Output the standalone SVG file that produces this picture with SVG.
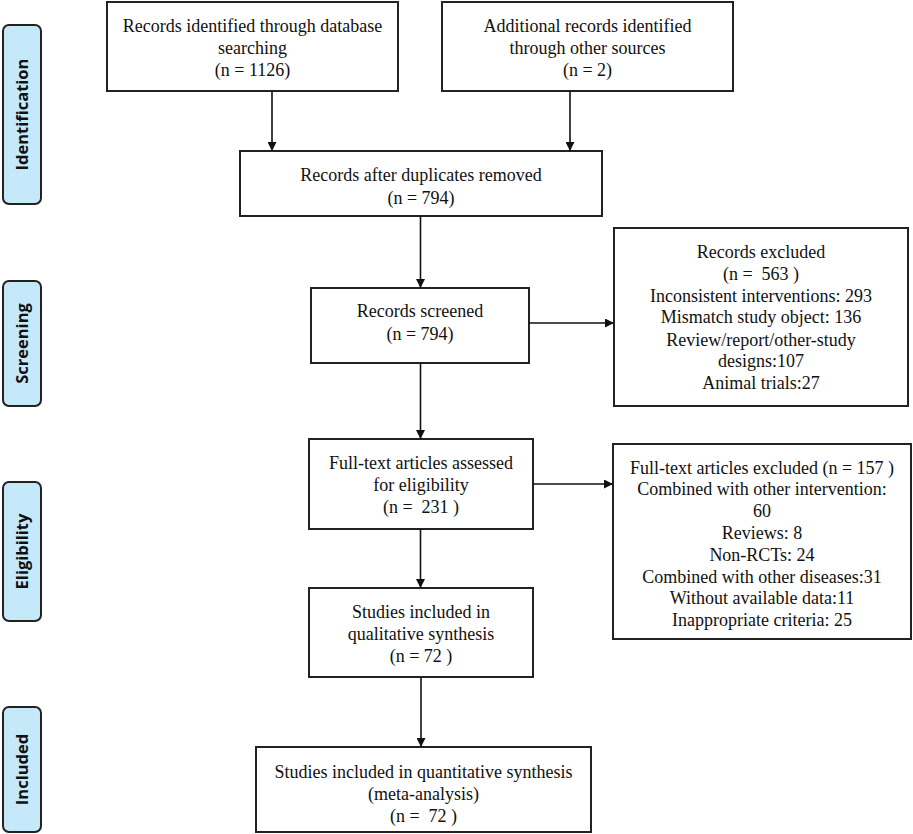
<svg xmlns="http://www.w3.org/2000/svg" width="913" height="834" viewBox="0 0 913 834">
<style>
.box{fill:#fff;stroke:#222;stroke-width:2}
.side{fill:#c6e9fa;stroke:#222;stroke-width:2}
.t{font-family:"Liberation Serif",serif;font-size:18px;fill:#111;text-anchor:middle;white-space:pre}
.s{font-family:"Open Sans","DejaVu Sans",sans-serif;font-size:16.5px;font-weight:bold;fill:#111;text-anchor:middle}
.c{stroke:#111;stroke-width:1.6;fill:none;marker-end:url(#ah)}
</style>
<defs>
<marker id="ah" viewBox="0 0 10 10" refX="10" refY="5" markerWidth="9" markerHeight="9" markerUnits="userSpaceOnUse" orient="auto">
<path d="M0,0 L10,5 L0,10 z" fill="#111"/>
</marker>
</defs>
<g id="side-identification"><rect class="side" x="3" y="25" width="38" height="179" rx="6"/><text class="s" transform="translate(28,114.5) rotate(-90)">Identification</text></g>
<g id="side-screening"><rect class="side" x="3" y="281" width="38" height="125" rx="6"/><text class="s" transform="translate(28,343.5) rotate(-90)">Screening</text></g>
<g id="side-eligibility"><rect class="side" x="3" y="482" width="38" height="139" rx="6"/><text class="s" transform="translate(28,551.5) rotate(-90)">Eligibility</text></g>
<g id="side-included"><rect class="side" x="3" y="707" width="38" height="125" rx="6"/><text class="s" transform="translate(28,769.5) rotate(-90)">Included</text></g>

<g id="n-database"><rect class="box" x="107" y="2" width="291" height="89"/>
<text class="t" x="252.5" y="32">Records identified through database</text>
<text class="t" x="252.5" y="54">searching</text>
<text class="t" x="252.5" y="76">(n = 1126)</text></g>
<g id="n-other"><rect class="box" x="442" y="2" width="291" height="89"/>
<text class="t" x="587.5" y="32">Additional records identified</text>
<text class="t" x="587.5" y="54">through other sources</text>
<text class="t" x="587.5" y="76">(n = 2)</text></g>
<g id="n-duplicates"><rect class="box" x="240" y="151" width="362" height="65"/>
<text class="t" x="421" y="181">Records after duplicates removed</text>
<text class="t" x="421" y="204">(n = 794)</text></g>
<g id="n-screened"><rect class="box" x="311" y="288" width="218" height="75"/>
<text class="t" x="420" y="317">Records screened</text>
<text class="t" x="420" y="340">(n = 794)</text></g>
<g id="n-excluded"><rect class="box" x="614" y="228" width="294" height="178"/>
<text class="t" x="761" y="258">Records excluded</text>
<text class="t" x="761" y="280">(n =  563 )</text>
<text class="t" x="761" y="302">Inconsistent interventions: 293</text>
<text class="t" x="761" y="323">Mismatch study object: 136</text>
<text class="t" x="761" y="346">Review/report/other-study</text>
<text class="t" x="761" y="367">designs:107</text>
<text class="t" x="761" y="389">Animal trials:27</text></g>
<g id="n-fulltext"><rect class="box" x="309" y="439" width="224" height="90"/>
<text class="t" x="421" y="469">Full-text articles assessed</text>
<text class="t" x="421" y="491">for eligibility</text>
<text class="t" x="421" y="513">(n =  231 )</text></g>
<g id="n-ftexcluded"><rect class="box" x="613" y="444" width="298" height="195"/>
<text class="t" x="762" y="474">Full-text articles excluded (n = 157 )</text>
<text class="t" x="762" y="495">Combined with other intervention:</text>
<text class="t" x="762" y="517">60</text>
<text class="t" x="762" y="539">Reviews: 8</text>
<text class="t" x="762" y="561">Non-RCTs: 24</text>
<text class="t" x="762" y="583">Combined with other diseases:31</text>
<text class="t" x="762" y="604">Without available data:11</text>
<text class="t" x="762" y="626">Inappropriate criteria: 25</text></g>
<g id="n-qualitative"><rect class="box" x="309" y="588" width="224" height="89"/>
<text class="t" x="421" y="618">Studies included in</text>
<text class="t" x="421" y="640">qualitative synthesis</text>
<text class="t" x="421" y="662">(n = 72 )</text></g>
<g id="n-quantitative"><rect class="box" x="256" y="747" width="335" height="85"/>
<text class="t" x="423.5" y="778">Studies included in quantitative synthesis</text>
<text class="t" x="423.5" y="800">(meta-analysis)</text>
<text class="t" x="423.5" y="822">(n =  72 )</text></g>

<g id="connectors">
<path class="c" d="M272,91 V151"/>
<path class="c" d="M570,91 V151"/>
<path class="c" d="M420.5,216 V288"/>
<path class="c" d="M420.5,363 V439"/>
<path class="c" d="M529,323 H614"/>
<path class="c" d="M533,484 H613"/>
<path class="c" d="M420.5,529 V588"/>
<path class="c" d="M421,677 V747"/>
</g>
</svg>
